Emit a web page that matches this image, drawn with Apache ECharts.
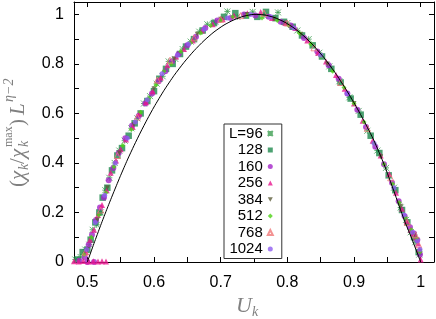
<!DOCTYPE html>
<html><head><meta charset="utf-8">
<script src="https://cdn.jsdelivr.net/npm/echarts@6/dist/echarts.min.js"></script>
<style>html,body{margin:0;padding:0;background:#fff}#c{width:436px;height:319px}</style>
</head><body><div id="c"></div>
<script>
// tick values
const xTickValues = [0.5,0.55,0.6,0.65,0.7,0.75,0.8,0.85,0.9,0.95,1.0];
const xLabelValues = [0.5,0.6,0.7,0.8,0.9,1.0];
const yTickValues = [0,0.1,0.2,0.3,0.4,0.5,0.6,0.7,0.8,0.9,1.0];
const yLabelValues = [0,0.2,0.4,0.6,0.8,1.0];

// black reference curve
const fitU = [0.500,0.510,0.520,0.530,0.540,0.550,0.560,0.570,0.580,0.590,0.600,0.615,0.630,0.645,0.660,0.675,0.690,0.705,0.720,0.735,0.750,0.765,0.780,0.795,0.810,0.825,0.840,0.855,0.870,0.885,0.900,0.915,0.930,0.945,0.960,0.975,0.988,1.000];
const fitV = [0,0.075,0.148,0.218,0.285,0.35,0.412,0.47,0.525,0.577,0.626,0.693,0.753,0.806,0.853,0.894,0.929,0.957,0.978,0.993,1.0,0.998,0.988,0.97,0.945,0.912,0.872,0.825,0.771,0.71,0.643,0.57,0.49,0.395,0.285,0.172,0.085,0];

const legendNames = ['L=96','128','160','256','384','512','768','1024'];

const s96 = [[0.482,0.01],[0.49,0.02],[0.497,0.05],[0.503,0.07],[0.508,0.13],[0.514,0.15],[0.52,0.2],[0.527,0.29],[0.533,0.34],[0.541,0.40],[0.548,0.45],[0.556,0.49],[0.566,0.54],[0.575,0.58],[0.585,0.64],[0.594,0.67],[0.604,0.72],[0.613,0.75],[0.622,0.81],[0.632,0.82],[0.643,0.86],[0.655,0.89],[0.668,0.93],[0.68,0.96],[0.692,0.97],[0.71,1.012],[0.725,0.99],[0.748,1.01],[0.765,0.995],[0.786,1.008],[0.80,0.965],[0.815,0.935],[0.832,0.9],[0.848,0.845],[0.863,0.79],[0.878,0.73],[0.893,0.665],[0.907,0.61],[0.92,0.53],[0.935,0.45],[0.948,0.38],[0.96,0.3],[0.97,0.22],[0.978,0.17],[0.985,0.12],[0.992,0.08],[0.998,0.03]];
const s128 = [[0.485,0.01],[0.493,0.04],[0.5,0.05],[0.505,0.09],[0.512,0.16],[0.518,0.2],[0.523,0.26],[0.53,0.3],[0.537,0.37],[0.545,0.43],[0.552,0.46],[0.562,0.51],[0.571,0.56],[0.58,0.60],[0.59,0.65],[0.6,0.69],[0.608,0.74],[0.618,0.78],[0.628,0.80],[0.639,0.84],[0.648,0.87],[0.66,0.90],[0.673,0.935],[0.69,0.965],[0.705,0.99],[0.722,1.005],[0.738,0.995],[0.755,0.99],[0.768,1.01],[0.782,0.985],[0.795,0.97],[0.808,0.95],[0.822,0.915],[0.838,0.875],[0.852,0.83],[0.866,0.78],[0.88,0.725],[0.895,0.66],[0.91,0.595],[0.925,0.51],[0.938,0.44],[0.952,0.35],[0.962,0.29],[0.972,0.21],[0.98,0.16],[0.99,0.10],[0.997,0.04]];
const s160 = [[0.5,0.0],[0.51,0.0],[0.488,0.005],[0.496,0.02],[0.502,0.07],[0.507,0.11],[0.513,0.17],[0.519,0.22],[0.525,0.26],[0.532,0.33],[0.539,0.38],[0.547,0.44],[0.557,0.50],[0.567,0.55],[0.577,0.59],[0.587,0.64],[0.597,0.68],[0.607,0.73],[0.617,0.77],[0.627,0.81],[0.637,0.84],[0.65,0.875],[0.663,0.91],[0.677,0.945],[0.695,0.975],[0.715,0.985],[0.735,1.0],[0.752,0.995],[0.772,0.99],[0.79,0.97],[0.805,0.955],[0.825,0.905],[0.845,0.85],[0.862,0.795],[0.877,0.74],[0.89,0.68],[0.905,0.615],[0.918,0.545],[0.932,0.465],[0.945,0.395],[0.957,0.32],[0.967,0.245],[0.976,0.185],[0.984,0.14],[0.99,0.115],[0.995,0.09],[0.999,0.03]];
const s256 = [[0.48,0.003],[0.487,0.002],[0.494,0.004],[0.502,0.002],[0.509,0.003],[0.516,0.002],[0.522,0.003],[0.528,0.002],[0.498,0.04],[0.504,0.09],[0.51,0.13],[0.516,0.19],[0.522,0.23],[0.529,0.29],[0.535,0.36],[0.543,0.41],[0.55,0.455],[0.558,0.495],[0.568,0.545],[0.578,0.6],[0.588,0.645],[0.598,0.69],[0.61,0.745],[0.62,0.795],[0.633,0.83],[0.645,0.86],[0.658,0.895],[0.672,0.935],[0.688,0.96],[0.703,0.98],[0.72,0.995],[0.74,1.005],[0.76,1.01],[0.777,0.985],[0.797,0.965],[0.812,0.945],[0.83,0.895],[0.846,0.845],[0.858,0.81],[0.873,0.755],[0.886,0.7],[0.9,0.64],[0.913,0.57],[0.928,0.49],[0.94,0.43],[0.953,0.355],[0.963,0.28],[0.972,0.215],[0.979,0.165],[0.985,0.13],[0.989,0.115],[0.993,0.1],[0.996,0.075],[0.998,0.05],[1.0,0.01]];
const s384 = [[0.5,0.05],[0.515,0.17],[0.53,0.3],[0.548,0.44],[0.57,0.555],[0.6,0.7],[0.63,0.82],[0.665,0.92],[0.7,0.98],[0.74,1.0],[0.78,0.98],[0.82,0.92],[0.86,0.8],[0.9,0.64],[0.94,0.425],[0.97,0.225],[0.99,0.11]];
const s512 = [[0.495,0.03],[0.506,0.1],[0.517,0.19],[0.528,0.28],[0.54,0.385],[0.553,0.47],[0.566,0.535],[0.58,0.605],[0.592,0.66],[0.603,0.715],[0.615,0.77],[0.626,0.8],[0.64,0.85],[0.655,0.885],[0.67,0.925],[0.685,0.955],[0.7,0.975],[0.718,0.99],[0.74,0.995],[0.762,0.985],[0.785,0.975],[0.802,0.955],[0.818,0.925],[0.835,0.88],[0.85,0.83],[0.868,0.77],[0.885,0.705],[0.9,0.64],[0.915,0.565],[0.93,0.48],[0.945,0.395],[0.958,0.315],[0.968,0.24],[0.977,0.18],[0.986,0.13],[0.994,0.095],[0.999,0.04]];
const s768 = [[0.497,0.04],[0.52,0.21],[0.545,0.43],[0.575,0.585],[0.605,0.735],[0.624,0.815],[0.66,0.905],[0.7,0.98],[0.73,0.995],[0.765,1.005],[0.8,0.965],[0.84,0.865],[0.88,0.725],[0.92,0.54],[0.955,0.34],[0.98,0.16],[0.992,0.11],[0.997,0.07]];
const s1024 = [[0.499,0.05],[0.512,0.16],[0.526,0.27],[0.542,0.4],[0.56,0.5],[0.572,0.565],[0.59,0.655],[0.612,0.76],[0.635,0.835],[0.652,0.88],[0.675,0.94],[0.71,0.985],[0.745,1.0],[0.775,0.99],[0.81,0.945],[0.85,0.835],[0.89,0.68],[0.93,0.48],[0.96,0.3],[0.975,0.19],[0.988,0.12],[0.995,0.085],[0.999,0.05]];

const chart = echarts.init(document.getElementById('c'), null, {renderer:'canvas'});
const fmt = v => String(Math.round(v*10)/10);
const starPath = 'path://M0,0L10,10M10,0L0,10M5,0L5,10M0,5L10,5';
const downTri = 'path://M0,0L10,0L5,9Z';
function sc(name, data, symbol, size, color, opts) {
  const o = {type:'scatter', name, data, symbol, symbolSize:size,
    itemStyle:{color}, z:2};
  return Object.assign(o, opts||{});
}
const axisCommon = {
  axisLine:{show:true, onZero:false, lineStyle:{color:'#000', width:1}},
  splitLine:{show:false},
};
chart.setOption({
  animation:false,
  backgroundColor:'#fff',
  grid:{left:74, right:2, top:2, bottom:57, containLabel:false},
  xAxis:[
    Object.assign({type:'value', min:0.48, max:1.02, position:'bottom',
      axisTick:{show:true, inside:true, length:5, customValues:xTickValues, lineStyle:{color:'#000'}},
      axisLabel:{show:true, customValues:xLabelValues, formatter:fmt, margin:13, color:'#000', fontSize:16, fontFamily:'Liberation Sans'}}, axisCommon),
    Object.assign({type:'value', min:0.48, max:1.02, position:'top',
      axisTick:{show:true, inside:true, length:5, customValues:xTickValues, lineStyle:{color:'#000'}},
      axisLabel:{show:false}}, axisCommon)
  ],
  yAxis:[
    Object.assign({type:'value', min:0, max:1.05, position:'left',
      axisTick:{show:true, inside:true, length:5, customValues:yTickValues, lineStyle:{color:'#000'}},
      axisLabel:{show:true, customValues:yLabelValues, formatter:fmt, margin:10, color:'#000', fontSize:16, fontFamily:'Liberation Sans'}}, axisCommon),
    Object.assign({type:'value', min:0, max:1.05, position:'right',
      axisTick:{show:true, inside:true, length:5, customValues:yTickValues, lineStyle:{color:'#000'}},
      axisLabel:{show:false}}, axisCommon)
  ],
  legend:{
    data:legendNames, orient:'vertical', align:'right', left:224, top:124,
    itemWidth:5, itemHeight:5, itemGap:1.5, selectedMode:false,
    padding:[2,8,2,5], backgroundColor:'#fff', borderColor:'#333', borderWidth:1,
    textStyle:{fontSize:15, fontFamily:'Liberation Sans', color:'#000', lineHeight:15}
  },
  series:[
    sc('L=96', s96, starPath, 6, 'rgba(0,0,0,0)', {itemStyle:{color:'rgba(0,0,0,0)', borderColor:'#3f9f52', borderWidth:1}}),
    sc('128', s128, 'rect', 6.5, '#1f8a4e'),
    sc('160', s160, 'circle', 6, '#a424c8'),
    sc('256', s256, 'triangle', 6, '#e8168e'),
    sc('384', s384, downTri, 5, '#5c5c3a'),
    sc('512', s512, 'diamond', 5, '#4cd214'),
    sc('768', s768, 'triangle', 6, 'rgba(0,0,0,0)', {itemStyle:{color:'rgba(0,0,0,0)', borderColor:'#f07878', borderWidth:1}}),
    sc('1024', s1024, 'circle', 5, '#8e5cf0'),
    {type:'line', name:'fit', data:fitU.map((u,i)=>[u,fitV[i]]), smooth:0.2, symbol:'none', z:5,
      lineStyle:{color:'#000', width:1}, itemStyle:{color:'#000'}}
  ],
  graphic:[
    {type:'group', x:18, y:187, rotation:Math.PI/2, silent:true, children:[
      {type:'text', x:0, y:0, style:{text:'(', font:'normal 21px "Liberation Serif"', fill:'#808080', verticalAlign:'middle'}},
      {type:'text', x:7, y:0, style:{text:'χ', font:'italic 21px "Liberation Serif"', fill:'#808080', verticalAlign:'middle'}},
      {type:'text', x:17, y:6, style:{text:'k', font:'italic 14px "Liberation Serif"', fill:'#808080', verticalAlign:'middle'}},
      {type:'text', x:23, y:0, style:{text:'/', font:'normal 21px "Liberation Serif"', fill:'#808080', verticalAlign:'middle'}},
      {type:'text', x:29, y:0, style:{text:'χ', font:'italic 21px "Liberation Serif"', fill:'#808080', verticalAlign:'middle'}},
      {type:'text', x:40, y:-9, style:{text:'max', font:'normal 12px "Liberation Serif"', fill:'#808080', verticalAlign:'middle'}},
      {type:'text', x:40, y:6, style:{text:'k', font:'italic 14px "Liberation Serif"', fill:'#808080', verticalAlign:'middle'}},
      {type:'text', x:61, y:0, style:{text:')', font:'normal 21px "Liberation Serif"', fill:'#808080', verticalAlign:'middle'}},
      {type:'text', x:72, y:0, style:{text:'L', font:'italic 21px "Liberation Serif"', fill:'#808080', verticalAlign:'middle'}},
      {type:'text', x:85, y:-9, style:{text:'η−2', font:'italic 14px "Liberation Serif"', fill:'#808080', verticalAlign:'middle'}}
    ]},
    {type:'text', x:236, y:306, silent:true, style:{text:'U', font:'italic 22px "Liberation Serif"', fill:'#808080', verticalAlign:'middle'}},
    {type:'text', x:252, y:312, silent:true, style:{text:'k', font:'italic 14px "Liberation Serif"', fill:'#808080', verticalAlign:'middle'}}
  ]
});
</script>
</body></html>
